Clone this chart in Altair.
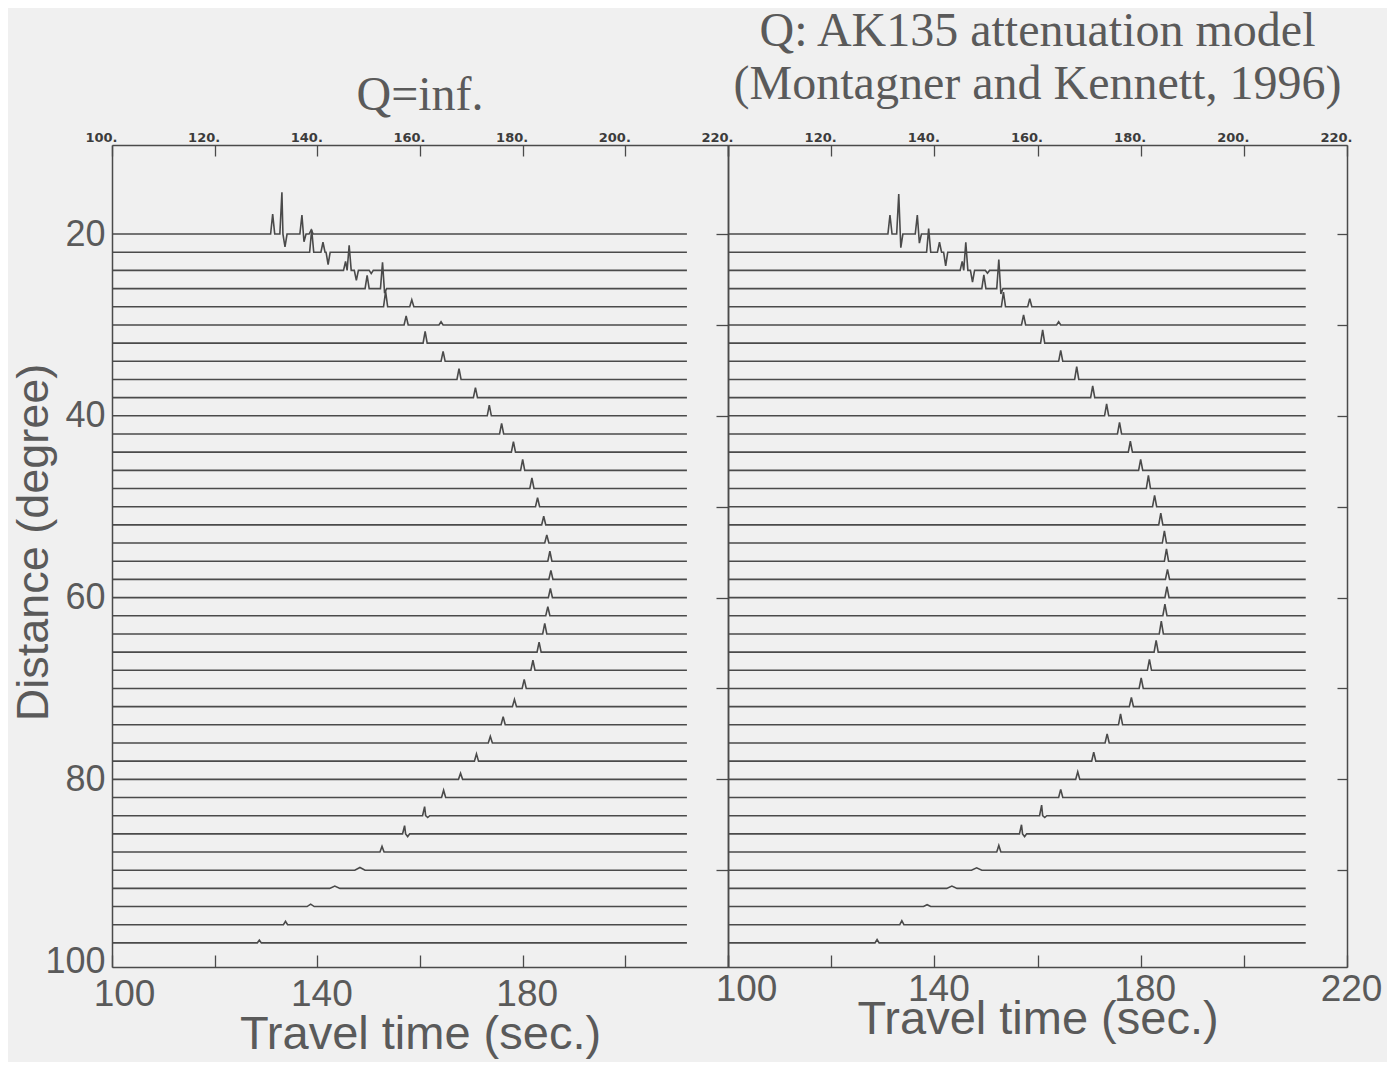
import altair as alt
import pandas as pd

# ---------------- data ----------------
DISTANCES = list(range(20, 100, 2))  # epicentral distance of each trace (degree)

# main arrival (time in s, amplitude in degree units, positive = upward) - Q = inf.
MAIN_T_INF = [133.1, 138.9, 146.2, 152.7, 153.3, 157.3, 161.0, 164.5, 167.6, 170.8,
              173.5, 175.9, 178.2, 180.0, 181.8, 182.9, 184.1, 184.7, 185.3, 185.5,
              185.4, 184.9, 184.3, 183.2, 182.0, 180.3, 178.4, 176.2, 173.7, 171.0,
              167.9, 164.6, 160.9, 157.0, 152.6, 148.3, 143.4, 138.7, 133.8, 128.7]
MAIN_A_INF = [4.6, 2.5, 2.75, 2.9, 1.7, 1.0, 1.28, 1.1, 1.2, 1.1,
              1.17, 1.17, 1.17, 1.2, 1.17, 1.0, 0.95, 0.9, 1.1, 1.0,
              1.0, 1.0, 1.17, 1.1, 1.1, 1.0, 0.8, 0.9, 0.73, 0.8,
              0.66, 0.8, 1.0, 0.9, 0.62, 0.3, 0.26, 0.26, 0.37, 0.3]

# main arrival - AK135 attenuation
MAIN_T_AK = [133.1, 138.9, 146.1, 152.5, 153.4, 157.3, 161.0, 164.5, 167.6, 170.7,
             173.4, 175.9, 178.0, 180.0, 181.5, 182.7, 183.9, 184.6, 185.0, 185.2,
             185.1, 184.7, 184.0, 183.0, 181.7, 180.1, 178.2, 176.1, 173.5, 170.9,
             167.8, 164.5, 160.8, 156.9, 152.5, 148.2, 143.4, 138.6, 133.7, 128.9]
MAIN_A_AK = [4.4, 2.6, 3.1, 3.2, 1.6, 1.1, 1.47, 1.2, 1.4, 1.28,
             1.3, 1.28, 1.2, 1.2, 1.45, 1.25, 1.3, 1.35, 1.35, 1.1,
             1.2, 1.28, 1.4, 1.28, 1.2, 1.17, 1.0, 1.2, 1.0, 1.0,
             0.84, 0.9, 1.17, 1.0, 0.73, 0.26, 0.26, 0.2, 0.44, 0.37]

# secondary wiggles (triplication branches, troughs) - Q = inf.
EXTRA_D_INF = [20, 20, 20, 20, 20, 22, 22, 24, 24, 24, 26, 26, 28, 30, 84, 86]
EXTRA_T_INF = [131.3, 133.7, 137.0, 137.4, 138.8, 141.1, 142.1, 145.5, 147.6, 150.5,
               149.7, 153.1, 158.4, 164.1, 161.5, 157.6]
EXTRA_A_INF = [2.2, -1.4, 2.1, -0.85, 0.45, 1.1, -1.35, 1.0, -1.1, -0.35,
               1.45, -0.5, 0.77, 0.35, -0.2, -0.3]

# secondary wiggles - AK135
EXTRA_D_AK = [20, 20, 20, 20, 22, 22, 24, 24, 24, 26, 26, 28, 30, 84, 86]
EXTRA_T_AK = [131.4, 133.5, 136.7, 137.1, 141.0, 142.2, 145.4, 147.4, 150.3,
              149.6, 152.9, 158.5, 164.1, 161.4, 157.5]
EXTRA_A_AK = [2.1, -1.5, 2.1, -1.0, 1.1, -1.5, 1.0, -1.3, -0.3,
              1.5, -0.6, 0.9, 0.35, -0.2, -0.3]

BROAD_D = [90, 92, 94]          # traces whose arrival is a low, broad bump
T_START, T_END = 100.0, 212.0   # time span of every trace

X_DOMAIN = [100, 220]
Y_DOMAIN = [10.2, 100.65]
X_TICKS = [100, 120, 140, 160, 180, 200, 220]
Y_LABELS = [20, 40, 60, 80, 100]
Y_TICKS = [20, 30, 40, 50, 60, 70, 80, 90]

TITLE_INF = "Q=inf."
TITLE_AK = ["Q: AK135 attenuation model", "(Montagner and Kennett, 1996)"]
X_TITLE = "Travel time (sec.)"
Y_TITLE = "Distance (degree)"

# ---------------- styling ----------------
BG = "#f0f0f0"
INK = "#4a4a4a"
TXT = "#5a5a5a"
SANS = "Liberation Sans"
SERIF = "Liberation Serif"
HEIGHT = 822


def build(main_t, main_a, ex_d, ex_t, ex_a):
    rows = []
    for i, d in enumerate(DISTANCES):
        pulses = [(main_t[i], main_a[i])] + [
            (t, a) for dd, t, a in zip(ex_d, ex_t, ex_a) if dd == d]
        pulses.sort()
        w = 1.0 if d in (90, 92) else (0.7 if d in BROAD_D else 0.4)
        pts = [(T_START, 0.0)]
        for j, (t, a) in enumerate(pulses):
            if t - w > pts[-1][0]:
                pts.append((t - w, 0.0))
            pts.append((t, a))
            nxt = pulses[j + 1][0] - w if j + 1 < len(pulses) else T_END
            if t + w < nxt:
                pts.append((t + w, 0.0))
        pts.append((T_END, 0.0))
        for k, (t, a) in enumerate(pts):
            rows.append({"dist": d, "k": k, "t": t, "y": d - a})
    return pd.DataFrame(rows)


df_inf = build(MAIN_T_INF, MAIN_A_INF, EXTRA_D_INF, EXTRA_T_INF, EXTRA_A_INF)
df_ak = build(MAIN_T_AK, MAIN_A_AK, EXTRA_D_AK, EXTRA_T_AK, EXTRA_A_AK)


def panel(df, title, title_offset, width, left, xtitle_y, label_pad, first_off):
    xs = alt.Scale(domain=X_DOMAIN, nice=False, zero=False)
    ys = alt.Scale(domain=Y_DOMAIN, reverse=True, nice=False, zero=False)

    bottom_expr = ("(datum.value == 100 || datum.value == 140 || datum.value == 180)"
                   " ? datum.label : ''") if left else \
        "(datum.value % 40 == 20) ? datum.label : ''"
    top_expr = "datum.label + '.'" if left else \
        "datum.value == 100 ? '' : datum.label + '.'"

    x_bottom = alt.Axis(
        orient="bottom", values=X_TICKS, labelExpr=bottom_expr, format="d",
        tickSize={"expr": "-12"}, labelPadding=label_pad, labelFontSize=37,
        labelFont=SANS, labelColor=TXT, labelFlush=False,
        labelOffset={"condition": {"test": "datum.value == 100", "value": first_off},
                     "value": 4},
        title=X_TITLE, titleFontSize=47, titleFont=SANS, titleFontWeight="normal",
        titleColor=TXT, titleY=xtitle_y, titleBaseline="alphabetic")
    x_top = alt.Axis(
        orient="top", values=X_TICKS, labelExpr=top_expr, format="d",
        tickSize={"expr": "-11"}, labelPadding=12, labelFontSize=13,
        labelFont="DejaVu Sans", labelFontWeight="bold", labelColor="#3c3c3c",
        labelAlign="right", labelOffset=5, labelFlush=False, title=None)
    if left:
        y_left = alt.Axis(
            orient="left", values=Y_LABELS, ticks=False, labelPadding=7,
            labelFontSize=36, labelFont=SANS, labelColor=TXT, labelFlush=False,
            title=Y_TITLE, titleFontSize=45, titleFont=SANS, titleFontWeight="normal",
            titleColor=TXT, titleX=-65, titleY=HEIGHT / 2 - 14,
            titleBaseline="alphabetic", titleAlign="center")
        y_right = alt.Axis(orient="right", values=Y_TICKS, tickSize={"expr": "-12"},
                           labels=False, title=None)
    else:
        y_left = alt.Axis(orient="left", values=Y_TICKS, ticks=False, labels=False,
                          title=None)
        y_right = alt.Axis(orient="right", values=Y_TICKS, tickSize={"expr": "-10"},
                           labels=False, title=None)

    traces = alt.Chart(df).mark_line(color=INK, strokeWidth=1.6).encode(
        x=alt.X("t:Q", scale=xs, axis=x_bottom),
        y=alt.Y("y:Q", scale=ys, axis=y_left),
        detail="dist:N", order="k:Q")
    carrier = alt.Chart(df).mark_line(strokeOpacity=0).encode(
        x=alt.X("t:Q", scale=xs, axis=x_top),
        y=alt.Y("y:Q", scale=ys, axis=y_right),
        detail="dist:N", order="k:Q")
    return alt.layer(traces, carrier).resolve_axis(
        x="independent", y="independent").properties(
        width=width, height=HEIGHT,
        title=alt.TitleParams(text=title, font=SERIF, fontSize=48,
                              fontWeight="normal", color=TXT, anchor="middle",
                              offset=title_offset, lineHeight=53))


left = panel(df_inf, TITLE_INF, 11, 616, True, 81, 21, 12)
right = panel(df_ak, TITLE_AK, 22, 619, False, 66, 16, 18)

chart = alt.hconcat(left, right, spacing=0, bounds="flush").configure_view(
    stroke=None).configure_axis(
    grid=False, domainColor=INK, domainWidth=1.5, tickColor=INK, tickWidth=1.3
).properties(background=BG, padding={"left": 3, "top": 0, "right": 5, "bottom": 5})

chart.save("out.html", embed_options={"renderer": "svg", "actions": False})
